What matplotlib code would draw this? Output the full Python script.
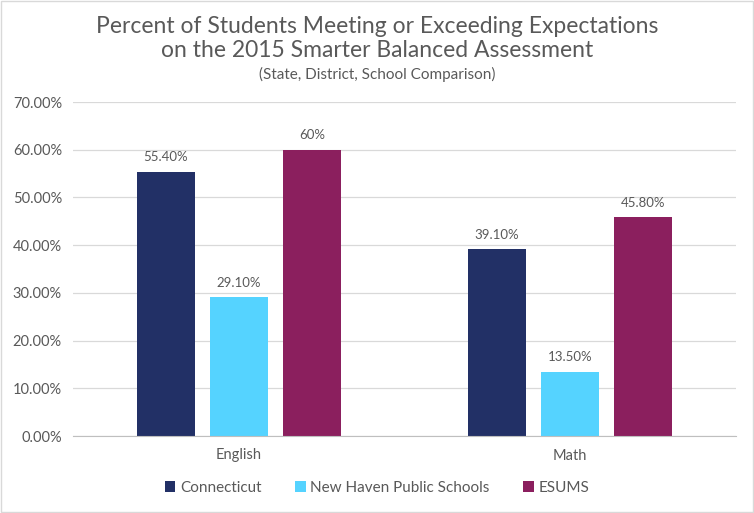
import matplotlib
matplotlib.use("Agg")
import matplotlib.pyplot as plt
import numpy as np

categories = ["English", "Math"]
series_names = ["Connecticut", "New Haven Public Schools", "ESUMS"]
connecticut = [55.40, 39.10]
nhps = [29.10, 13.50]
esums = [60.0, 45.80]
value_labels = [["55.40%", "39.10%"], ["29.10%", "13.50%"], ["60%", "45.80%"]]
colors = ["#223066", "#55D3FF", "#8B1F5E"]

plt.rcParams['font.family'] = ['Lato', 'DejaVu Sans']
txt = "#595959"

fig = plt.figure(figsize=(7.54, 5.13), dpi=100)
ax = fig.add_axes([73/754, 1-436/513, (736-73)/754, (436-102)/513])

x = np.arange(len(categories))
w = 0.175
off = 0.2205
data = [connecticut, nhps, esums]
for i, (vals, name, c) in enumerate(zip(data, series_names, colors)):
    bars = ax.bar(x + (i-1)*off, vals, width=w, color=c, label=name, zorder=3)
    for b, lab in zip(bars, value_labels[i]):
        ax.annotate(lab, (b.get_x()+b.get_width()/2, b.get_height()),
                    xytext=(0, 6), textcoords="offset points",
                    ha="center", va="bottom", fontsize=9.5, color=txt)

ax.set_xlim(-0.5, 1.5)
ax.set_ylim(0, 70)
ax.set_yticks(np.arange(0, 71, 10))
ax.set_yticklabels([f"{v:.2f}%" for v in np.arange(0, 71, 10)])
ax.set_xticks(x)
ax.set_xticklabels(categories)
ax.tick_params(axis='both', length=0, labelsize=10.5, colors=txt)
ax.tick_params(axis='y', pad=8)
ax.tick_params(axis='x', pad=9)
ax.grid(axis='y', color="#D9D9D9", linewidth=0.9, zorder=0)
for s in ["top", "right", "left"]:
    ax.spines[s].set_visible(False)
ax.spines["bottom"].set_color("#BFBFBF")
ax.spines["bottom"].set_zorder(4)

fig.text(0.5, 1-27/513, "Percent of Students Meeting or Exceeding Expectations",
         ha="center", va="center", fontsize=16.5, color=txt)
fig.text(0.5, 1-51/513, "on the 2015 Smarter Balanced Assessment",
         ha="center", va="center", fontsize=16.5, color=txt)
fig.text(0.5, 1-74/513, "(State, District, School Comparison)", ha="center", va="center",
         fontsize=11, color=txt)

leg = fig.legend(loc="center", bbox_to_anchor=(0.5, 1-488/513), ncol=3, frameon=False,
                 fontsize=11, handlelength=0.7, handleheight=0.7, handletextpad=0.3,
                 columnspacing=2.2, labelcolor=txt)

fig.patches.append(matplotlib.patches.Rectangle((0.001, 0.001), 0.998, 0.998, transform=fig.transFigure,
                   fill=False, edgecolor="#D9D9D9", linewidth=1))
fig.savefig("out.png", dpi=100)
